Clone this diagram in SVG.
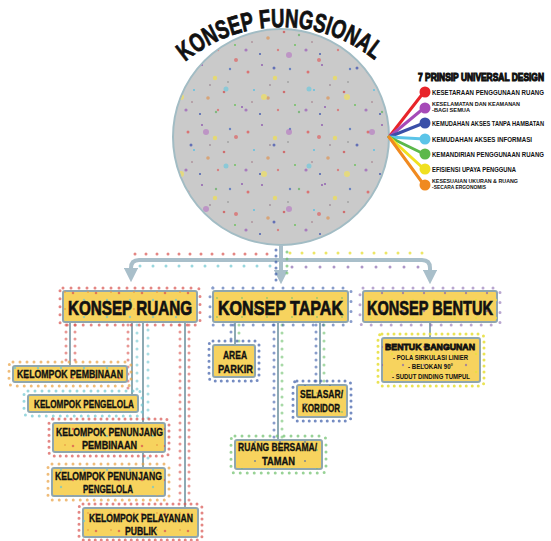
<svg xmlns="http://www.w3.org/2000/svg" width="551" height="541" viewBox="0 0 551 541">
<style>
text{font-family:"Liberation Sans",Arial,sans-serif;font-weight:bold;fill:#111;}
.heavy{stroke:#111;stroke-width:.8;}
.box{fill:#f7d35e;stroke:#8fa6ae;stroke-width:2;}
.dot{fill:none;stroke-linecap:round;stroke-width:3;}
.conn{fill:none;stroke:#8eaab4;stroke-width:2;}
.trunk{fill:none;stroke:#a9bfca;stroke-width:4;}
.leg{stroke-width:3;stroke-linecap:round;}
.big{font-size:20px;stroke:#111;stroke-width:.7;}
.sub{font-size:10px;stroke:#111;stroke-width:.3;}
</style>
<defs>
<marker id="ah" viewBox="0 0 10 10" refX="5" refY="5" markerWidth="3.6" markerHeight="3.6" orient="auto" markerUnits="strokeWidth">
<path d="M0,0 L10,5 L0,10 z" fill="#a9bfca"/>
</marker>
<pattern id="pc1" width="60" height="60" patternUnits="userSpaceOnUse">
<circle cx="8" cy="12" r="1.5" fill="#e05050" opacity=".7"/>
<circle cx="22" cy="5" r="1" fill="#9060b0"/>
<circle cx="35" cy="18" r="2.2" fill="#f0e050" opacity=".7"/>
<circle cx="50" cy="9" r="1.2" fill="#5070c0" opacity=".8"/>
<circle cx="14" cy="30" r="1" fill="#60c0e0"/>
<circle cx="28" cy="38" r="1.8" fill="#e08a40" opacity=".6"/>
<circle cx="44" cy="32" r="1.3" fill="#d04848" opacity=".7"/>
<circle cx="55" cy="45" r="1" fill="#70c060"/>
<circle cx="6" cy="50" r="1.6" fill="#9a5ab8" opacity=".7"/>
<circle cx="20" cy="54" r="1" fill="#4a60b0"/>
<circle cx="38" cy="50" r="1.2" fill="#e05050" opacity=".6"/>
<circle cx="48" cy="22" r=".8" fill="#888"/>
<circle cx="30" cy="25" r=".8" fill="#8a7080"/>
<circle cx="12" cy="42" r=".8" fill="#a07080"/>
</pattern>
<pattern id="pc2" width="83" height="77" patternUnits="userSpaceOnUse">
<circle cx="15" cy="20" r="3" fill="#f0e060" opacity=".7"/>
<circle cx="60" cy="12" r="2.5" fill="#60c8e0" opacity=".6"/>
<circle cx="40" cy="55" r="3" fill="#b060c0" opacity=".5"/>
<circle cx="70" cy="60" r="2" fill="#e05050" opacity=".6"/>
<circle cx="25" cy="68" r="1.5" fill="#4a5ab0" opacity=".8"/>
<circle cx="50" cy="35" r="1.2" fill="#60b060" opacity=".7"/>
<circle cx="76" cy="30" r="1" fill="#9060b0"/>
</pattern>
<pattern id="pR" width="23" height="17" patternUnits="userSpaceOnUse">
<circle cx="4" cy="4" r="1.3" fill="#d9534f" opacity=".7"/>
<circle cx="15" cy="11" r="1.2" fill="#6ec6d0" opacity=".7"/>
<circle cx="19" cy="3" r="1" fill="#e89a40" opacity=".7"/>
</pattern>
<pattern id="pT" width="25" height="19" patternUnits="userSpaceOnUse">
<circle cx="5" cy="5" r="1.1" fill="#3b5ba8" opacity=".6"/>
<circle cx="17" cy="13" r="1.1" fill="#6cbf6a" opacity=".6"/>
</pattern>
<pattern id="pB" width="21" height="18" patternUnits="userSpaceOnUse">
<circle cx="4" cy="5" r="1.2" fill="#8a6ab0" opacity=".7"/>
<circle cx="14" cy="12" r="1.3" fill="#e8e040" opacity=".8"/>
</pattern>
</defs>

<g id="circle-node">
<circle cx="281" cy="137" r="108" fill="#cacaca" stroke="#a2bcc4" stroke-width="2"/>
<circle cx="281" cy="137" r="107" fill="url(#pc1)"/>
<circle cx="281" cy="137" r="107" fill="url(#pc2)"/>
<path id="arc" d="M185.2,61.9 A149,149 0 0 1 376.8,61.9" fill="none"/>
<text font-size="26" class="heavy"><textPath href="#arc" textLength="205" lengthAdjust="spacingAndGlyphs">KONSEP FUNGSIONAL</textPath></text>
</g>

<g id="legend">
<text transform="translate(418,81) scale(1,1.4)" font-size="7.6" class="heavy" stroke-width=".25" textLength="126" lengthAdjust="spacingAndGlyphs">7 PRINSIP UNIVERSAL DESIGN</text>
<line class="leg" x1="389" y1="137" x2="424" y2="92" stroke="#e8242a"/>
<line class="leg" x1="389" y1="137" x2="424" y2="108" stroke="#a64ab8"/>
<line class="leg" x1="389" y1="137" x2="424" y2="123" stroke="#3a4fa8"/>
<line class="leg" x1="389" y1="137" x2="424" y2="139" stroke="#5bc4e8"/>
<line class="leg" x1="389" y1="137" x2="424" y2="154" stroke="#5cb84a"/>
<line class="leg" x1="389" y1="137" x2="424" y2="169" stroke="#f0e020"/>
<line class="leg" x1="389" y1="137" x2="424" y2="185" stroke="#f08a20"/>
<circle cx="425" cy="92" r="5.5" fill="#e8242a"/>
<circle cx="425" cy="108" r="5.5" fill="#a64ab8"/>
<circle cx="425" cy="123" r="5.5" fill="#3a4fa8"/>
<circle cx="425" cy="139" r="5.5" fill="#5bc4e8"/>
<circle cx="425" cy="154" r="5.5" fill="#5cb84a"/>
<circle cx="425" cy="169" r="5.5" fill="#f0e020"/>
<circle cx="425" cy="185" r="5.5" fill="#f08a20"/>
<text transform="translate(432,95) scale(1,1.3)" font-size="6.2" textLength="112" lengthAdjust="spacingAndGlyphs">KESETARAAN PENGGUNAAN RUANG</text>
<text transform="translate(432,106) scale(1,1.2)" font-size="5" textLength="88" lengthAdjust="spacingAndGlyphs">KESELAMATAN DAN KEAMANAN</text>
<text transform="translate(432,112) scale(1,1.2)" font-size="5" textLength="38" lengthAdjust="spacingAndGlyphs">-BAGI SEMUA</text>
<text transform="translate(432,126) scale(1,1.3)" font-size="5.7" textLength="112" lengthAdjust="spacingAndGlyphs">KEMUDAHAN AKSES TANPA HAMBATAN</text>
<text transform="translate(432,142) scale(1,1.3)" font-size="6.2" textLength="100" lengthAdjust="spacingAndGlyphs">KEMUDAHAN AKSES INFORMASI</text>
<text transform="translate(432,157) scale(1,1.3)" font-size="6" textLength="112" lengthAdjust="spacingAndGlyphs">KEMANDIRIAN PENGGUNAAN RUANG</text>
<text transform="translate(432,172) scale(1,1.3)" font-size="6" textLength="84" lengthAdjust="spacingAndGlyphs">EFISIENSI UPAYA PENGGUNA</text>
<text transform="translate(432,183) scale(1,1.2)" font-size="5" textLength="86" lengthAdjust="spacingAndGlyphs">KESESUAIAN UKURAN &amp; RUANG</text>
<text transform="translate(432,189) scale(1,1.2)" font-size="5" textLength="54" lengthAdjust="spacingAndGlyphs">-SECARA ERGONOMIS</text>
</g>

<g id="connectors">
<path class="trunk" d="M131,275 V268 Q131,260 139,260 H422 Q430,260 430,268 V277" marker-end="url(#ah)"/>
<path class="trunk" d="M131,268 V275" marker-end="url(#ah)"/>
<path class="trunk" d="M281,245 V277" marker-end="url(#ah)"/>
<path class="dot" d="M135,254 H278" stroke="#d9534f" stroke-dasharray="0 11" opacity=".7"/>
<path class="dot" d="M140,266 H276" stroke="#6ec6d0" stroke-dasharray="0 13" opacity=".7"/>
<path class="dot" d="M290,253 H425" stroke="#e8e040" stroke-dasharray="0 12" opacity=".8"/>
<path class="dot" d="M292,267 H420" stroke="#8a6ab0" stroke-dasharray="0 14" opacity=".7"/>
<path class="dot" d="M276,250 V282" stroke="#3b5ba8" stroke-dasharray="0 6" opacity=".7"/>
<path class="dot" d="M287,252 V280" stroke="#6cbf6a" stroke-dasharray="0 7" opacity=".7"/>
<path class="conn" d="M70,323 V366 M132,323 V395 M143,323 V468 M185,323 V508"/>
<path class="conn" d="M235,323 V345 M278,323 V440 M320,323 V385"/>
<path class="conn" d="M430,323 V338"/>
<path class="dot" d="M66,325 V364 M75,325 V364 M128,325 V393 M189,325 V505 M180,325 V505" stroke="#d9534f" stroke-dasharray="0 7" stroke-width="2.5" opacity=".6"/>
<path class="dot" d="M137,325 V393 M148,330 V465" stroke="#6ec6d0" stroke-dasharray="0 8" stroke-width="2.5" opacity=".6"/>
<path class="dot" d="M231,325 V343 M274,325 V438 M316,325 V383" stroke="#3b5ba8" stroke-dasharray="0 7" stroke-width="2.5" opacity=".6"/>
<path class="dot" d="M239,325 V343 M282,325 V438 M324,325 V383" stroke="#6cbf6a" stroke-dasharray="0 8" stroke-width="2.5" opacity=".6"/>
</g>

<g id="konsep-ruang">
<rect x="60" y="288" width="140" height="37" rx="3" class="dot" stroke="#d9534f" stroke-dasharray="0 8" opacity=".7"/>
<rect x="63" y="291" width="134" height="31" rx="2" class="box"/>
<rect x="63" y="291" width="134" height="31" fill="url(#pR)"/>
<text x="68" y="315" class="big" textLength="124" lengthAdjust="spacingAndGlyphs">KONSEP RUANG</text>
</g>
<g id="konsep-tapak">
<rect x="210" y="288" width="141" height="37" rx="3" class="dot" stroke="#3b5ba8" stroke-dasharray="0 10" opacity=".6"/>
<rect x="213" y="291" width="135" height="31" rx="2" class="box"/>
<rect x="213" y="291" width="135" height="31" fill="url(#pT)"/>
<text x="218" y="315" class="big" textLength="125" lengthAdjust="spacingAndGlyphs">KONSEP TAPAK</text>
</g>
<g id="konsep-bentuk">
<rect x="360" y="288" width="140" height="37" rx="3" class="dot" stroke="#8a6ab0" stroke-dasharray="0 10" opacity=".6"/>
<rect x="363" y="291" width="134" height="31" rx="2" class="box"/>
<rect x="363" y="291" width="134" height="31" fill="url(#pB)"/>
<text x="367" y="315" class="big" textLength="126" lengthAdjust="spacingAndGlyphs">KONSEP BENTUK</text>
</g>

<g id="kelompok-pembinaan">
<rect x="9" y="362" width="122" height="24" rx="4" class="dot" stroke="#e8a040" stroke-dasharray="0 7" opacity=".7"/>
<rect x="13" y="366" width="114" height="16" rx="2" class="box"/>
<rect x="13" y="366" width="114" height="16" fill="url(#pR)"/>
<text x="17" y="378" class="sub" textLength="106" lengthAdjust="spacingAndGlyphs">KELOMPOK PEMBINAAN</text>
</g>
<g id="kelompok-pengelola">
<rect x="24" y="391" width="118" height="25" rx="4" class="dot" stroke="#6ec6d0" stroke-dasharray="0 7" opacity=".7"/>
<rect x="28" y="395" width="110" height="17" rx="2" class="box"/>
<text x="34" y="408" class="sub" textLength="100" lengthAdjust="spacingAndGlyphs">KELOMPOK PENGELOLA</text>
</g>
<g id="kelompok-penunjang-pembinaan">
<rect x="49" y="419" width="120" height="37" rx="4" class="dot" stroke="#d9534f" stroke-dasharray="0 6" opacity=".7"/>
<rect x="53" y="423" width="112" height="29" rx="2" class="box"/>
<rect x="53" y="423" width="112" height="29" fill="url(#pR)"/>
<text x="56" y="436" class="sub" textLength="107" lengthAdjust="spacingAndGlyphs">KELOMPOK PENUNJANG</text>
<text x="82" y="449" class="sub" textLength="55" lengthAdjust="spacingAndGlyphs">PEMBINAAN</text>
</g>
<g id="kelompok-penunjang-pengelola">
<rect x="48" y="464" width="121" height="36" rx="4" class="dot" stroke="#e8a040" stroke-dasharray="0 7" opacity=".7"/>
<rect x="52" y="468" width="113" height="28" rx="2" class="box"/>
<rect x="52" y="468" width="113" height="28" fill="url(#pR)"/>
<text x="55" y="480" class="sub" textLength="107" lengthAdjust="spacingAndGlyphs">KELOMPOK PENUNJANG</text>
<text x="83" y="493" class="sub" textLength="50" lengthAdjust="spacingAndGlyphs">PENGELOLA</text>
</g>
<g id="kelompok-pelayanan-publik">
<rect x="79" y="504" width="123" height="36" rx="4" class="dot" stroke="#d9534f" stroke-dasharray="0 6" opacity=".7"/>
<rect x="83" y="508" width="115" height="29" rx="2" class="box"/>
<rect x="83" y="508" width="115" height="29" fill="url(#pR)"/>
<text x="89" y="522" class="sub" textLength="104" lengthAdjust="spacingAndGlyphs">KELOMPOK PELAYANAN</text>
<text x="125" y="535" class="sub" textLength="32" lengthAdjust="spacingAndGlyphs">PUBLIK</text>
</g>

<g id="area-parkir">
<rect x="209" y="341" width="50" height="40" rx="4" class="dot" stroke="#3b5ba8" stroke-dasharray="0 6" opacity=".7"/>
<rect x="213" y="345" width="42" height="32" rx="2" class="box"/>
<text x="223" y="359" class="sub" textLength="24" lengthAdjust="spacingAndGlyphs">AREA</text>
<text x="218" y="373" class="sub" textLength="35" lengthAdjust="spacingAndGlyphs">PARKIR</text>
</g>
<g id="selasar-koridor">
<rect x="293" y="381" width="58" height="40" rx="4" class="dot" stroke="#3b5ba8" stroke-dasharray="0 6" opacity=".7"/>
<rect x="297" y="385" width="50" height="32" rx="2" class="box"/>
<rect x="297" y="385" width="50" height="32" fill="url(#pT)"/>
<text x="300" y="398" class="sub" textLength="43" lengthAdjust="spacingAndGlyphs">SELASAR/</text>
<text x="302" y="412" class="sub" textLength="38" lengthAdjust="spacingAndGlyphs">KORIDOR</text>
</g>
<g id="ruang-bersama-taman">
<rect x="231" y="436" width="95" height="37" rx="4" class="dot" stroke="#6cbf6a" stroke-dasharray="0 7" opacity=".7"/>
<rect x="235" y="440" width="87" height="29" rx="2" class="box"/>
<rect x="235" y="440" width="87" height="29" fill="url(#pT)"/>
<text x="238" y="451" class="sub" textLength="79" lengthAdjust="spacingAndGlyphs">RUANG BERSAMA/</text>
<text x="262" y="465" class="sub" textLength="33" lengthAdjust="spacingAndGlyphs">TAMAN</text>
</g>

<g id="bentuk-bangunan">
<rect x="378" y="334" width="106" height="52" rx="4" class="dot" stroke="#e8e040" stroke-dasharray="0 6" opacity=".9"/>
<rect x="382" y="338" width="98" height="44" rx="2" class="box"/>
<rect x="382" y="338" width="98" height="44" fill="url(#pB)"/>
<text x="385" y="350" font-size="9.5" class="heavy" stroke-width=".3" textLength="90" lengthAdjust="spacingAndGlyphs">BENTUK BANGUNAN</text>
<text x="393" y="360" font-size="6.5" textLength="75" lengthAdjust="spacingAndGlyphs">- POLA SIRKULASI LINIER</text>
<text x="408" y="369" font-size="6.5" textLength="45" lengthAdjust="spacingAndGlyphs">- BELOKAN 90°</text>
<text x="392" y="379" font-size="6.5" textLength="78" lengthAdjust="spacingAndGlyphs">- SUDUT DINDING TUMPUL</text>
</g>
</svg>
